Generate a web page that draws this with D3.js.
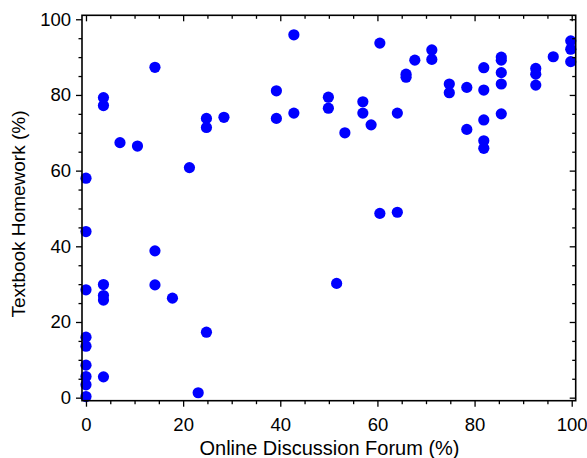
<!DOCTYPE html>
<html>
<head>
<meta charset="utf-8">
<script src="https://cdn.jsdelivr.net/npm/d3@7"></script>
<style>
  body { margin: 0; background: #fff; }
  text { font-family: "Liberation Sans", Arial, sans-serif; fill: #000; }
</style>
</head>
<body>
<svg width="587" height="458"></svg>
<script>
// x = Online Discussion Forum (%), y = Textbook Homework (%)
const forum = [
  0, 0, 0, 0, 0, 0, 0, 0, 0,
  3.6, 3.6, 3.6, 3.6, 3.6, 3.6,
  7.0, 10.6, 14.2, 14.2, 14.2, 17.8, 21.3, 23.1,
  24.8, 24.8, 24.8, 28.4,
  39.2, 39.2, 42.8, 42.8, 49.9, 49.9, 51.6, 53.3,
  57.0, 57.0, 58.7, 60.5, 60.5, 64.1, 64.1,
  65.9, 65.9, 67.7, 71.2, 71.2, 74.8, 74.8, 78.4, 78.4,
  81.9, 81.9, 81.9, 81.9, 81.9,
  85.5, 85.5, 85.5, 85.5, 85.5,
  92.6, 92.6, 92.6, 96.2, 99.8, 99.8, 99.8
];
const homework = [
  0.3, 3.4, 5.6, 8.6, 13.6, 16.0, 28.5, 43.9, 58.0,
  79.3, 77.2, 29.9, 27.0, 25.8, 5.5,
  67.4, 66.5, 87.3, 38.8, 29.8, 26.3, 60.8, 1.3,
  73.8, 71.4, 17.3, 74.1,
  81.1, 73.8, 95.9, 75.2, 79.4, 76.5, 30.2, 70.0,
  78.2, 75.2, 72.1, 93.7, 48.7, 75.2, 49.0,
  85.5, 84.7, 89.2, 91.9, 89.4, 82.9, 80.6, 82.0, 70.9,
  87.2, 81.3, 73.4, 67.9, 65.9,
  90.0, 89.2, 85.9, 82.9, 75.0,
  87.0, 85.5, 82.6, 90.1, 94.3, 92.1, 88.8
];
const majorTicks = [0, 20, 40, 60, 80, 100];
const minorTicks = d3.range(0, 101, 5).filter(v => v % 20 !== 0);

const svg = d3.select('svg');
const plotLeft = 82, plotRight = 575.7, plotTop = 15.3, plotBottom = 400.7;

const x = d3.scaleLinear().domain([-0.82, 100.82]).range([plotLeft, plotRight]);
const y = d3.scaleLinear().domain([-0.8, 101.05]).range([plotBottom, plotTop]);

const chart = svg.append('g');

// points
chart.selectAll('circle')
  .data(forum.map((f, i) => ({ f: f, h: homework[i] })))
  .enter()
  .append('circle')
  .attr('cx', d => x(d.f))
  .attr('cy', d => y(d.h))
  .attr('r', 5.6)
  .attr('fill', '#0000ff');

// axes: bottom/left outward ticks with labels, top/right inward mirrors
function styleAxis(g) {
  g.select('.domain').remove();
  g.selectAll('.tick line').attr('stroke', '#000').attr('stroke-width', 1.3);
  g.selectAll('text').style('font-size', '18.5px');
}

chart.append('g')
  .attr('transform', `translate(0,${plotBottom})`)
  .call(d3.axisBottom(x).tickValues(majorTicks).tickSize(6).tickPadding(7).tickFormat(d3.format('d')))
  .call(styleAxis)
  .call(g => g.selectAll('text').attr('dy', '0.93em'));
chart.append('g')
  .attr('transform', `translate(0,${plotBottom})`)
  .call(d3.axisBottom(x).tickValues(minorTicks).tickSize(3.5).tickFormat(''))
  .call(styleAxis);

chart.append('g')
  .attr('transform', `translate(${plotLeft},0)`)
  .call(d3.axisLeft(y).tickValues(majorTicks).tickSize(6).tickPadding(5).tickFormat(d3.format('d')))
  .call(styleAxis);
chart.append('g')
  .attr('transform', `translate(${plotLeft},0)`)
  .call(d3.axisLeft(y).tickValues(minorTicks).tickSize(3.5).tickFormat(''))
  .call(styleAxis);

chart.append('g')
  .attr('transform', `translate(0,${plotTop})`)
  .call(d3.axisBottom(x).tickValues(majorTicks).tickSize(6).tickFormat(''))
  .call(styleAxis);
chart.append('g')
  .attr('transform', `translate(0,${plotTop})`)
  .call(d3.axisBottom(x).tickValues(minorTicks).tickSize(3.5).tickFormat(''))
  .call(styleAxis);

chart.append('g')
  .attr('transform', `translate(${plotRight},0)`)
  .call(d3.axisLeft(y).tickValues(majorTicks).tickSize(6).tickFormat(''))
  .call(styleAxis);
chart.append('g')
  .attr('transform', `translate(${plotRight},0)`)
  .call(d3.axisLeft(y).tickValues(minorTicks).tickSize(3.5).tickFormat(''))
  .call(styleAxis);

// frame
chart.append('rect')
  .attr('x', plotLeft).attr('y', plotTop)
  .attr('width', plotRight - plotLeft).attr('height', plotBottom - plotTop)
  .attr('fill', 'none')
  .attr('stroke', '#000')
  .attr('stroke-width', 1.6);

// axis titles
svg.append('text')
  .attr('x', 329.5)
  .attr('y', 455)
  .attr('text-anchor', 'middle')
  .style('font-size', '20px')
  .text('Online Discussion Forum (%)');

svg.append('text')
  .attr('transform', 'translate(25,214) rotate(-90)')
  .attr('text-anchor', 'middle')
  .style('font-size', '19px')
  .text('Textbook Homework (%)');
</script>
</body>
</html>
